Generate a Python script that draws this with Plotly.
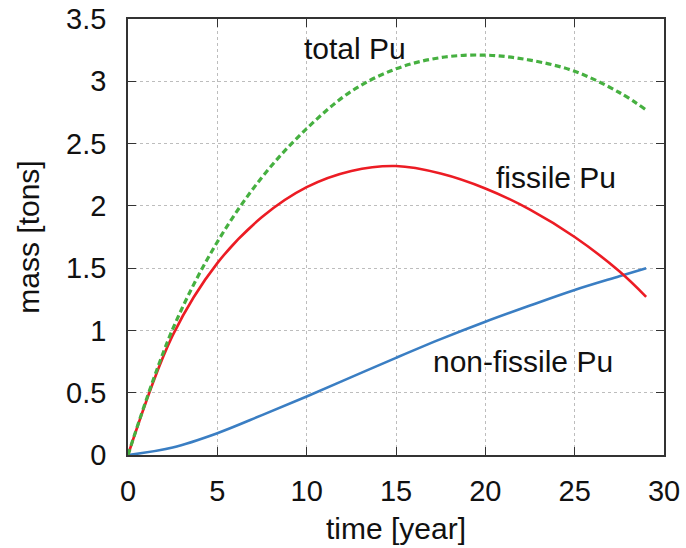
import plotly.graph_objects as go

# Plutonium inventory over time (tons)
time_year = [0, 2.5, 5, 7.5, 10, 12.5, 15, 17.5, 20, 22.5, 25, 27.5, 29]
fissile_pu = [0, 0.96, 1.54, 1.91, 2.15, 2.28, 2.32, 2.26, 2.14, 1.97, 1.75, 1.475, 1.27]
non_fissile_pu = [0, 0.06, 0.175, 0.32, 0.47, 0.625, 0.78, 0.93, 1.07, 1.20, 1.325, 1.435, 1.50]
total_pu = [0, 1.01, 1.71, 2.23, 2.62, 2.92, 3.10, 3.19, 3.21, 3.17, 3.08, 2.91, 2.77]

x_ticks = [0, 5, 10, 15, 20, 25, 30]
y_ticks = [0, 0.5, 1, 1.5, 2, 2.5, 3, 3.5]
y_tick_text = ["0", "0.5", "1", "1.5", "2", "2.5", "3", "3.5"]

labels = [
    ("total Pu", 12.7, 3.26),
    ("fissile Pu", 23.95, 2.23),
    ("non-fissile Pu", 22.1, 0.75),
]

FONT = "Liberation Sans, Arial, Helvetica, sans-serif"
TICK_FS = 29
TEXT_FS = 30

fig = go.Figure()
fig.add_trace(go.Scatter(x=time_year, y=non_fissile_pu, mode="lines", line_shape="spline",
                         line=dict(color="#3a7ec3", width=2.6), name="non-fissile Pu"))
fig.add_trace(go.Scatter(x=time_year, y=fissile_pu, mode="lines", line_shape="spline",
                         line=dict(color="#ec1c24", width=2.6), name="fissile Pu"))
fig.add_trace(go.Scatter(x=time_year, y=total_pu, mode="lines", line_shape="spline",
                         line=dict(color="#46b040", width=3.2, dash="6px,3.5px"), name="total Pu"))

for text, x, y in labels:
    fig.add_annotation(x=x, y=y, text=text, showarrow=False,
                       font=dict(family=FONT, size=TEXT_FS, color="#111"))

axis_common = dict(
    showline=True, linecolor="#333", linewidth=1.6, mirror="ticks",
    ticks="inside", ticklen=8, tickwidth=1.4, tickcolor="#333",
    showgrid=True, gridcolor="#bdbdbd", griddash="dot", gridwidth=1,
    zeroline=False, automargin=False,
    tickfont=dict(family=FONT, size=TICK_FS, color="#111"),
)

fig.update_xaxes(range=[0, 30], tickvals=x_ticks, ticklabelstandoff=9,
                 title=dict(text="time [year]", font=dict(family=FONT, size=TEXT_FS, color="#111"), standoff=12),
                 **axis_common)
fig.update_yaxes(range=[0, 3.5], tickvals=y_ticks, ticktext=y_tick_text, ticklabelstandoff=14,
                 title=dict(text="mass [tons]", font=dict(family=FONT, size=TEXT_FS, color="#111"), standoff=18),
                 **axis_common)

fig.update_layout(
    width=686, height=548,
    margin=dict(l=128, r=22, t=19, b=93),
    paper_bgcolor="white", plot_bgcolor="white",
    showlegend=False,
)

fig.write_html("out.html")
